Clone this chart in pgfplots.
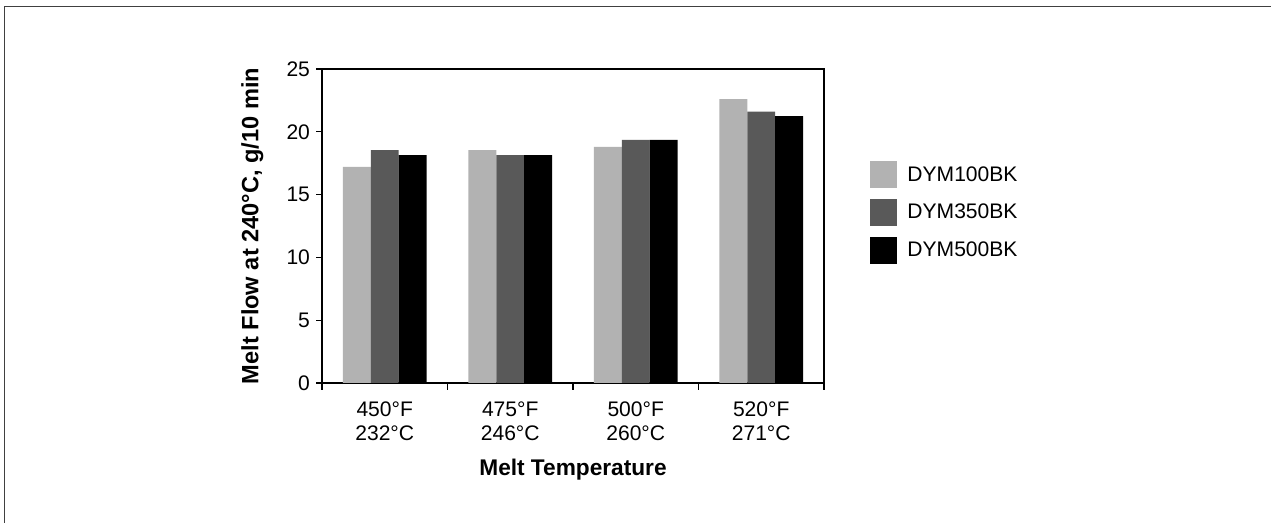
\documentclass[border=0pt]{standalone}
\usepackage{fontspec}
\setmainfont{Liberation Sans}
\usepackage{pgfplots}
\pgfplotsset{compat=1.18}

\definecolor{lightbar}{HTML}{B2B2B2}
\definecolor{darkbar}{HTML}{595959}
\definecolor{framegray}{HTML}{404040}

\begin{document}
\begin{tikzpicture}
% page area and outer chart frame
\useasboundingbox (0,0) rectangle (953.25pt,392.25pt);
\draw[framegray, line width=1.1pt] (3.4pt,-2pt) -- (3.4pt,387.4pt) -- (960pt,387.4pt);

\begin{axis}[
  at={(241.5pt,105pt)}, anchor=south west,
  scale only axis, width=376.5pt, height=235.5pt,
  xmin=-0.5, xmax=3.5, ymin=0, ymax=25,
  axis line style={black, line width=0.9pt},
  font=\fontsize{15.8}{18.5}\selectfont,
  /pgf/number format/assume math mode=true,
  ytick={0,5,10,15,20,25},
  ytick pos=left, xtick pos=bottom,
  tick align=outside,
  major tick length=4.5pt, minor tick length=5pt,
  tick style={black, line width=0.8pt},
  xtick={0,1,2,3},
  minor xtick={-0.5,0.5,1.5,2.5,3.5},
  major x tick style={draw=none},
  xticklabels={{450°F\\232°C},{475°F\\246°C},{500°F\\260°C},{520°F\\271°C}},
  xticklabel style={align=center, yshift=-6pt, font=\fontsize{15.8}{18}\selectfont},
  yticklabel style={xshift=-1pt},
  xlabel={\bfseries Melt Temperature},
  xlabel style={at={(axis description cs:0.5,-0.277)}, anchor=center, font=\fontsize{17}{20}\selectfont},
  ylabel={\bfseries Melt Flow at 240°C, g/10 min},
  ylabel style={at={(axis description cs:-0.139,0.5)}, anchor=center, rotate=0, font=\fontsize{17.7}{20}\selectfont},
  ybar, bar width=0.2222,
  legend style={draw=none, fill=none, at={(axis description cs:1.092,0.543)}, anchor=west,
    font=\fontsize{15.8}{18.5}\selectfont, row sep=8pt, inner sep=0pt,
    /tikz/every odd column/.append style={column sep=5.5pt}},
  legend cell align=left,
  legend image code/.code={\fill[#1] (0pt,-10.1pt) rectangle (20.25pt,10.1pt);},
]
\addplot[fill=lightbar, draw=none, bar shift=-0.2222] coordinates {(0,17.2) (1,18.55) (2,18.8) (3,22.6)};
\addplot[fill=darkbar, draw=none, bar shift=0] coordinates {(0,18.55) (1,18.15) (2,19.35) (3,21.6)};
\addplot[fill=black, draw=none, bar shift=0.2222] coordinates {(0,18.15) (1,18.15) (2,19.35) (3,21.25)};
\legend{DYM100BK, DYM350BK, DYM500BK}
\end{axis}
\end{tikzpicture}
\end{document}
